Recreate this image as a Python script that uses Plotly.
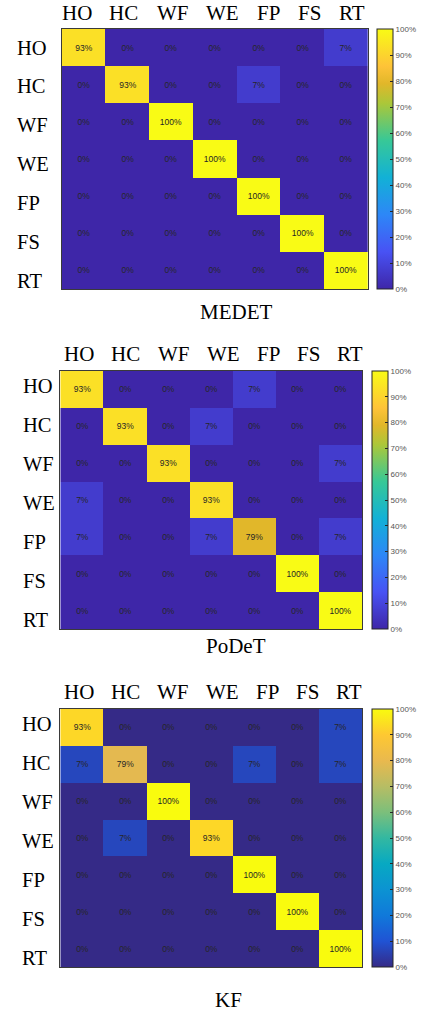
import plotly.graph_objects as go

# ---------------- data ----------------
classes = ["HO", "HC", "WF", "WE", "FP", "FS", "RT"]

medet = [
    [93, 0, 0, 0, 0, 0, 7],
    [0, 93, 0, 0, 7, 0, 0],
    [0, 0, 100, 0, 0, 0, 0],
    [0, 0, 0, 100, 0, 0, 0],
    [0, 0, 0, 0, 100, 0, 0],
    [0, 0, 0, 0, 0, 100, 0],
    [0, 0, 0, 0, 0, 0, 100],
]
podet = [
    [93, 0, 0, 0, 7, 0, 0],
    [0, 93, 0, 7, 0, 0, 0],
    [0, 0, 93, 0, 0, 0, 7],
    [7, 0, 0, 93, 0, 0, 0],
    [7, 0, 0, 7, 79, 0, 7],
    [0, 0, 0, 0, 0, 100, 0],
    [0, 0, 0, 0, 0, 0, 100],
]
kf = [
    [93, 0, 0, 0, 0, 0, 7],
    [7, 79, 0, 0, 7, 0, 7],
    [0, 0, 100, 0, 0, 0, 0],
    [0, 7, 0, 93, 0, 0, 0],
    [0, 0, 0, 0, 100, 0, 0],
    [0, 0, 0, 0, 0, 100, 0],
    [0, 0, 0, 0, 0, 0, 100],
]
titles = ["MEDET", "PoDeT", "KF"]
cbar_tickvals = [0, 10, 20, 30, 40, 50, 60, 70, 80, 90, 100]
cbar_ticktext = ["0%", "10%", "20%", "30%", "40%", "50%", "60%", "70%", "80%", "90%", "100%"]

# ---------------- styles ----------------
parula_new = [
    [0.0, "#3E26A8"], [0.143, "#4852F4"], [0.286, "#2D87F7"], [0.429, "#12B1D6"],
    [0.571, "#37C897"], [0.714, "#ABC739"], [0.79, "#E1B72A"], [0.857, "#FEC338"],
    [1.0, "#F9FB15"],
]
parula_old = [
    [0.0, "#352A87"], [0.1, "#2053D4"], [0.2, "#1079DA"], [0.3, "#0C93D2"],
    [0.4, "#07A9C2"], [0.5, "#33B8A1"], [0.6, "#7CBF7B"], [0.7, "#B7BD64"],
    [0.8, "#E9B94E"], [0.9, "#FEC832"], [1.0, "#F9FB0E"],
]

W, H = 422, 1013
SERIF = "Liberation Serif, Times New Roman, serif"
SANS = "Liberation Sans, Arial, sans-serif"


def px_x(v):
    return v / W


def px_y(v):
    return 1 - v / H


# layout geometry per panel (pixels)
panels = [
    dict(z=medet, cs=parula_new, box=(61.7, 368, 29, 289), cb=(377, 16),
         col_cx=[76.7, 124, 172.7, 223, 268, 309, 351.7], col_y=13.5,
         row_x=15, row_y0=47.5, title_xy=(236, 312)),
    dict(z=podet, cs=parula_new, box=(60.3, 362, 371, 629), cb=(371.5, 16),
         col_cx=[79, 126, 174, 223.3, 268, 308.3, 350], col_y=354,
         row_x=20.5, row_y0=386, title_xy=(236, 646)),
    dict(z=kf, cs=parula_old, box=(60.3, 362, 709, 967), cb=(371.5, 21),
         col_cx=[78.7, 125.3, 173.3, 222.7, 267.7, 307.3, 349.3], col_y=692.3,
         row_x=20, row_y0=723.5, title_xy=(228, 1000)),
]
ROW_STEP = 39

fig = go.Figure()
annotations = []
layout_axes = {}

for i, (p, title) in enumerate(zip(panels, titles)):
    n = "" if i == 0 else str(i + 1)
    x0, x1, y0, y1 = p["box"]
    fig.add_trace(go.Heatmap(
        z=p["z"], x=classes, y=classes,
        xaxis="x" + n, yaxis="y" + n,
        colorscale=p["cs"], zmin=0, zmax=100,
        texttemplate="%{z}%",
        textfont=dict(family=SANS, size=8.5, color="#262626"),
        hoverinfo="skip",
        colorbar=dict(
            x=px_x(p["cb"][0]), xanchor="left", xpad=0,
            y=px_y(y1), yanchor="bottom", ypad=0,
            len=(y1 - y0) / H, lenmode="fraction",
            thickness=p["cb"][1], thicknessmode="pixels",
            outlinecolor="#262626", outlinewidth=1,
            tickvals=cbar_tickvals, ticktext=cbar_ticktext,
            ticks="inside", ticklen=3, tickcolor="#262626", tickwidth=1,
            tickfont=dict(family=SANS, size=8, color="#555555"),
        ),
    ))
    layout_axes["xaxis" + n] = dict(
        domain=[px_x(x0), px_x(x1)], anchor="y" + n,
        showticklabels=False, ticks="", showgrid=False, zeroline=False,
        showline=True, mirror=True, linecolor="#3a3a3a", linewidth=1,
    )
    layout_axes["yaxis" + n] = dict(
        domain=[px_y(y1), px_y(y0)], anchor="x" + n, autorange="reversed",
        showticklabels=False, ticks="", showgrid=False, zeroline=False,
        showline=True, mirror=True, linecolor="#3a3a3a", linewidth=1,
    )
    # column labels (top)
    for lab, cx in zip(classes, p["col_cx"]):
        annotations.append(dict(
            text=lab, x=px_x(cx), y=px_y(p["col_y"]), xref="paper", yref="paper",
            xanchor="center", yanchor="middle", showarrow=False,
            font=dict(family=SERIF, size=21, color="black"),
        ))
    # row labels (left)
    for k, lab in enumerate(classes):
        annotations.append(dict(
            text=lab, x=px_x(p["row_x"]), y=px_y(p["row_y0"] + k * ROW_STEP),
            xref="paper", yref="paper",
            xanchor="left", yanchor="middle", showarrow=False,
            font=dict(family=SERIF, size=20.5, color="black"),
        ))
    annotations.append(dict(
        text=title, x=px_x(p["title_xy"][0]), y=px_y(p["title_xy"][1]),
        xref="paper", yref="paper", xanchor="center", yanchor="middle",
        showarrow=False, font=dict(family=SERIF, size=21, color="black"),
    ))

fig.update_layout(
    width=W, height=H,
    margin=dict(l=0, r=0, t=0, b=0),
    paper_bgcolor="white", plot_bgcolor="white",
    annotations=annotations,
    **layout_axes,
)

fig.write_html(
    "out.html",
    config={"displayModeBar": False},
    post_script="document.body.style.margin='0';document.body.style.overflow='hidden';",
)
